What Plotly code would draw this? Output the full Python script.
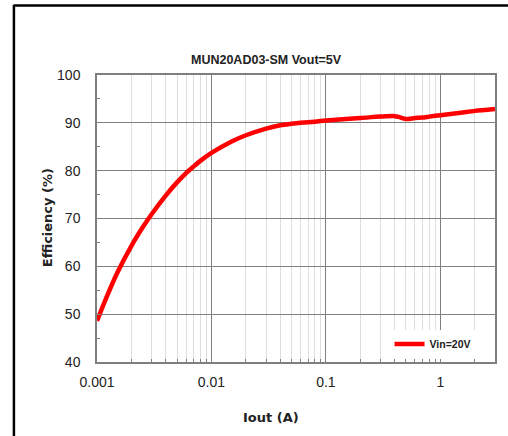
import numpy as np
import plotly.graph_objects as go

iout = [0.001, 0.0012, 0.0015, 0.002, 0.0025, 0.003, 0.004, 0.005, 0.006, 0.007,
        0.008, 0.01, 0.015, 0.02, 0.03, 0.04, 0.05, 0.06, 0.08, 0.1, 0.15, 0.2,
        0.3, 0.4, 0.45, 0.5, 0.6, 0.7, 0.8, 1.0, 1.5, 2.0, 3.0]
eff_vin20 = [48.6, 53.3, 58.6, 64.3, 68.1, 70.9, 74.85, 77.55, 79.5, 80.9,
             82.05, 83.7, 86.1, 87.4, 88.8, 89.5, 89.8, 90.0, 90.25, 90.47, 90.8, 91.0,
             91.3, 91.4, 91.1, 90.8, 91.0, 91.1, 91.3, 91.6, 92.1, 92.5, 92.9]

x_tickvals = [0.001, 0.01, 0.1, 1]
x_ticktext = ["0.001", "0.01", "0.1", "1"]
series_name = "Vin=20V"
title_text = "MUN20AD03-SM Vout=5V"
x_title = "Iout (A)"
y_title = "Efficiency (%)"

W, H = 508, 436
L, R, T, B = 97, 11, 75, 74
pw, ph = W - L - R, H - T - B

def px_x(p):
    return (p - L) / pw

def px_y(p):
    return (H - B - p) / ph

fig = go.Figure()
fig.add_trace(go.Scatter(
    x=iout, y=eff_vin20, mode="lines", name=series_name,
    line=dict(color="#ff0000", width=4.5, shape="spline", smoothing=0.7),
))

axis_col = "#7f7f7f"
fig.update_layout(
    width=W, height=H,
    margin=dict(l=L, r=R, t=T, b=B),
    paper_bgcolor="white", plot_bgcolor="white",
    font=dict(family="Liberation Sans, Arial, sans-serif", color="#222222", size=14),
    showlegend=True,
    legend=dict(
        x=px_x(391), y=px_y(344), xanchor="left", yanchor="middle",
        bgcolor="white", borderwidth=0,
        font=dict(family="Liberation Sans, Arial, sans-serif", size=10.5, color="#222222", weight="bold"),
        itemwidth=30,
    ),
    xaxis=dict(
        type="log", range=[-3, np.log10(3)],
        tickvals=x_tickvals, ticktext=x_ticktext,
        showline=True, linecolor=axis_col, linewidth=1.5, mirror=True,
        showgrid=True, gridcolor="#808080", gridwidth=1,
        ticks="inside", ticklen=4, tickcolor=axis_col,
        ticklabelstandoff=6,
        minor=dict(showgrid=True, gridcolor="#dedede", gridwidth=1,
                   ticks="inside", ticklen=3, tickcolor=axis_col, dtick="D1"),
        zeroline=False,
        tickfont=dict(size=14),
    ),
    yaxis=dict(
        range=[40, 100], dtick=10,
        showline=True, linecolor=axis_col, linewidth=1.5, mirror=True,
        showgrid=True, gridcolor="#808080", gridwidth=1,
        ticks="inside", ticklen=4, tickcolor=axis_col,
        ticklabelstandoff=12,
        minor=dict(dtick=5, ticks="inside", ticklen=3, tickcolor=axis_col, showgrid=False),
        zeroline=False,
        tickfont=dict(size=14),
    ),
)

fig.add_annotation(text="<b>" + title_text + "</b>", xref="paper", yref="paper",
                   x=px_x(267), y=px_y(60), xanchor="center", yanchor="middle",
                   showarrow=False,
                   font=dict(family="Liberation Sans, Arial, sans-serif", size=12.5, color="#222222"))
fig.add_annotation(text="<b>" + y_title + "</b>", xref="paper", yref="paper",
                   x=px_x(47), y=px_y(218), xanchor="center", yanchor="middle",
                   textangle=-90, showarrow=False,
                   font=dict(family="DejaVu Sans, Verdana, sans-serif", size=13, color="#222222"))
fig.add_annotation(text="<b>" + x_title + "</b>", xref="paper", yref="paper",
                   x=px_x(272), y=px_y(417), xanchor="center", yanchor="middle",
                   showarrow=False,
                   font=dict(family="DejaVu Sans, Verdana, sans-serif", size=13, color="#222222"))

# outer frame (top and left edges visible)
fig.add_shape(type="line", xref="paper", yref="paper",
              x0=px_x(13), x1=px_x(520), y0=px_y(5.5), y1=px_y(5.5),
              line=dict(color="black", width=2.5))
fig.add_shape(type="line", xref="paper", yref="paper",
              x0=px_x(13.5), x1=px_x(13.5), y0=px_y(5), y1=px_y(450),
              line=dict(color="black", width=2.5))

fig.write_html("out.html",
               config={"displayModeBar": False},
               post_script="document.body.style.margin='0';document.body.style.overflow='hidden';")
